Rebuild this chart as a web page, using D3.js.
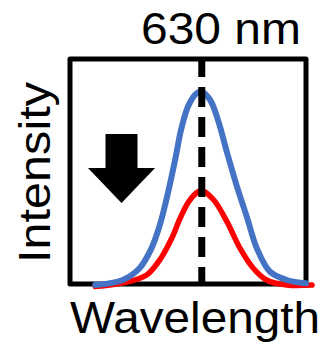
<!DOCTYPE html>
<html>
<head>
<meta charset="utf-8">
<script src="https://cdn.jsdelivr.net/npm/d3@7"></script>
<style>
  html, body { margin: 0; padding: 0; background: #fff; }
  svg { display: block; }
  text { font-family: "Liberation Sans", Arial, sans-serif; fill: #000; }
</style>
</head>
<body>
<svg id="chart" width="322" height="346"></svg>
<script>
// Emission spectra before (blue) and after (red) quenching, peak at 630 nm
const peakWavelength = 630;
const peakLabel = "630 nm";
const xTitle = "Wavelength";
const yTitle = "Intensity";

const wavelengthDomain = [520, 717];
const intensityDomain = [0, 1];

const blueWavelength = [541, 564, 578, 588, 595, 602, 608, 613, 619, 626, 630, 637, 644, 651, 659, 668, 676, 687, 701, 717];
const blueIntensity  = [0.010, 0.036, 0.096, 0.198, 0.318, 0.489, 0.660, 0.814, 0.933, 0.995, 1.000, 0.959, 0.847, 0.691, 0.523, 0.352, 0.198, 0.078, 0.036, 0.019];

const redWavelength = [541, 564, 584, 596, 605, 612, 619, 627, 630, 640, 651, 662, 673, 684, 701, 722];
const redIntensity  = [0.002, 0.021, 0.062, 0.149, 0.251, 0.354, 0.437, 0.489, 0.495, 0.446, 0.335, 0.198, 0.096, 0.036, 0.010, 0.010];

// Layout
const frame = { left: 70, right: 306, top: 59, bottom: 284 };
const baseY = 287, peakY = 92;

const svg = d3.select("#chart");

const x = d3.scaleLinear().domain(wavelengthDomain).range([frame.left, frame.right]);
const y = d3.scaleLinear().domain(intensityDomain).range([baseY, peakY]);

// Plot frame
svg.append("rect")
  .attr("x", frame.left).attr("y", frame.top)
  .attr("width", frame.right - frame.left).attr("height", frame.bottom - frame.top)
  .attr("fill", "none").attr("stroke", "#000").attr("stroke-width", 5)
  .attr("stroke-linejoin", "round");

// Spectra
const line = d3.line()
  .x(d => x(d[0]))
  .y(d => y(d[1]))
  .curve(d3.curveCatmullRom.alpha(0.5));

const series = [
  { color: "#ff0000", width: 5.5, pts: d3.zip(redWavelength, redIntensity) },
  { color: "#4472c4", width: 6, pts: d3.zip(blueWavelength, blueIntensity) }
];

svg.selectAll("path.spectrum")
  .data(series)
  .join("path")
  .attr("class", "spectrum")
  .attr("d", d => line(d.pts))
  .attr("fill", "none")
  .attr("stroke", d => d.color)
  .attr("stroke-width", d => d.width)
  .attr("stroke-linecap", "round")
  .attr("stroke-linejoin", "round");

// Dashed marker at the peak wavelength
svg.append("line")
  .attr("x1", x(peakWavelength)).attr("x2", x(peakWavelength))
  .attr("y1", frame.top - 2).attr("y2", frame.bottom)
  .attr("stroke", "#000").attr("stroke-width", 7)
  .attr("stroke-dasharray", "20 10");

// Downward arrow
const ax = 121.5, ay = 134;
svg.append("path")
  .attr("d", `M${ax - 16},${ay} H${ax + 16} V${ay + 34} H${ax + 33.5} L${ax},${ay + 69} L${ax - 33.5},${ay + 34} H${ax - 16} Z`)
  .attr("fill", "#000");

// Labels
svg.append("text")
  .attr("x", 141).attr("y", 44)
  .attr("font-size", 44)
  .attr("textLength", 160).attr("lengthAdjust", "spacingAndGlyphs")
  .text(peakLabel);

svg.append("text")
  .attr("x", 70).attr("y", 333)
  .attr("font-size", 45)
  .attr("textLength", 250).attr("lengthAdjust", "spacingAndGlyphs")
  .text(xTitle);

svg.append("text")
  .attr("transform", "translate(50,263) rotate(-90)")
  .attr("font-size", 44)
  .attr("textLength", 181).attr("lengthAdjust", "spacingAndGlyphs")
  .text(yTitle);
</script>
</body>
</html>
